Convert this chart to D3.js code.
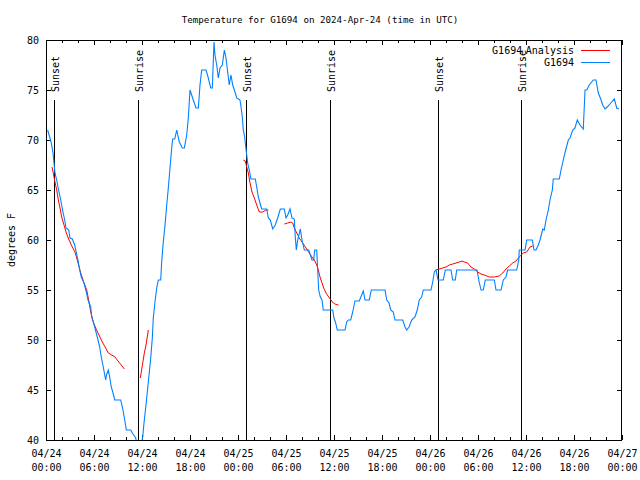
<!DOCTYPE html>
<html><head><meta charset="utf-8">
<script src="https://cdn.jsdelivr.net/npm/d3@7"></script>
<style>body{margin:0;background:#fff}text{font-family:"DejaVu Sans Mono",monospace;fill:#000}</style>
</head><body><svg id="c" width="640" height="480"></svg>
<script>
// Hours since 2024-04-24 00:00 UTC
const obsHours = [0.2,0.5,0.66,0.88,1.0,1.12,1.34,1.5,1.71,1.91,2.12,2.34,2.5,2.84,3.0,3.29,3.59,3.79,4.0,4.16,4.41,4.75,5.04,5.25,5.59,5.71,5.91,6.12,6.41,6.71,6.91,7.16,7.46,7.56,7.79,7.96,8.16,8.38,8.59,9.34,9.62,9.84,10.04,10.59,10.79,11.21,11.4,11.6,11.9,12.09,12.25,12.5,12.66,12.88,13.09,13.29,13.41,13.62,13.84,14.04,14.34,14.46,14.66,14.88,15.09,15.29,15.5,15.71,15.84,16.09,16.34,16.66,17.04,17.29,17.59,17.79,18.0,18.21,18.41,18.75,19.04,19.25,19.46,20.0,20.29,20.59,20.79,21.0,21.12,21.34,21.54,21.75,22.04,22.29,22.5,22.71,22.91,23.12,23.34,23.62,23.84,24.25,24.38,24.54,24.66,24.84,24.91,25.09,25.21,25.41,25.62,26.16,26.34,26.54,26.75,26.96,27.59,27.79,28.04,28.34,28.66,28.96,29.29,29.79,30.0,30.21,30.5,30.75,31.04,31.16,31.29,31.46,31.79,32.0,32.29,32.84,33.25,33.46,33.59,33.84,33.96,34.09,34.29,34.5,34.66,35.84,36.0,36.21,36.41,37.38,37.59,37.79,38.09,38.34,38.62,39.16,39.46,39.66,39.88,40.41,40.66,42.38,42.59,42.88,43.09,43.41,43.62,44.59,44.88,45.09,45.38,45.71,46.12,46.41,46.66,46.96,47.16,48.12,48.34,48.54,48.75,49.0,49.66,49.91,50.62,50.84,51.16,51.34,53.88,54.09,54.38,54.66,54.91,56.04,56.25,56.88,57.16,57.5,57.71,58.84,59.09,59.16,59.88,60.09,60.79,61.0,61.25,61.54,61.75,62.09,62.29,62.5,62.79,63.0,63.29,63.41,64.16,64.38,64.66,64.96,65.29,65.5,65.84,66.12,66.41,66.75,67.16,67.38,67.59,67.91,68.21,68.41,68.75,69.04,69.34,69.59,69.88,70.16,70.71,71.04,71.34,71.62];
const obsTemps = [71,70.2,69.7,68.7,67.7,66.7,66,65.3,64.5,63.7,62.8,62,61.2,61,60.2,60.1,59.5,58.7,58,57.2,56.3,55.7,54.8,54,53.3,52.3,51.8,51.2,50.3,49.3,48.3,47.3,46,46.5,47,46.3,45.3,44.7,44,44,43,42,41,41,40.7,40.2,39.5,39,39.5,40.3,41.7,43.5,44.8,46.5,48.2,50.2,52.2,53.8,55.2,56,56,57.8,59.8,61.5,63.5,65.2,67.2,69.2,70.1,70.1,71,69.8,69.2,69.2,70.5,72.2,75,74.5,74,73.2,73.2,75.5,77,77,76.2,75.2,75.2,79.8,78.5,77.5,76.2,77.2,77.5,79,78.2,76.8,75.5,76.5,75.5,74.8,74.2,74,73.3,72.3,71,70.3,69.7,68.5,67.7,67,66.1,66.1,65.3,64.3,63.7,63.1,63.1,62.2,62,61.1,61.5,62.2,63.1,63.1,62.2,62.5,63.1,62.2,62.1,60.3,59,60,61.1,60,59,59,58,58,59,59,57,55,54.3,54,53,53,52.2,51.7,51,51,51.8,52,52,52.8,53.9,53.9,54.5,54.9,54,54,55,55,54,53.7,53,52.8,52,52,51.3,51,51.3,52,52.3,53,54,54.3,55,55,55.8,56.8,57,56,56,57,57,56,56,57,57,56,55,55,56,56,55,55,56,56.3,57,57,58,59,59,60,60,59,59,59.5,60,61.1,61,62,63,64,65,66.1,66.1,67,68,69,70,70.2,71,71.2,72,71.5,71.1,75,75,75.5,75.8,76,76,74.7,74.1,73.5,73.1,73.3,73.8,74.1,73.2,73.1];
// null marks a gap in the analysis series
const anaHours = [0.75,0.91,1.12,1.34,1.54,1.75,1.96,2.25,2.54,2.88,3.29,3.62,3.91,4.34,4.75,5.09,5.38,5.59,5.91,6.21,6.62,7.04,7.46,7.79,8.21,8.62,9.0,9.41,9.79,null,
 11.79,12.09,12.29,12.5,12.66,12.79,null,
 24.66,24.91,25.09,25.29,25.5,25.75,26.04,26.34,26.66,27.09,27.5,27.79,null,
 29.79,30.21,30.62,30.84,31.04,31.34,31.66,32.09,32.5,32.91,33.25,33.54,33.84,34.04,34.25,34.5,34.71,35.0,35.34,35.62,35.91,36.12,36.54,null,
 48.75,49.16,49.59,50.0,50.41,50.84,51.25,51.66,52.0,52.29,52.71,53.12,53.54,53.96,54.38,54.79,55.41,56.04,56.66,57.09,57.5,57.91,58.34,58.75,59.16,59.66,60.09,60.5,60.84];
const anaTemps = [67.3,66.7,65.8,65,64,63.2,62.3,61.5,60.7,60,59.3,58.8,58,56.7,55.7,55,53.8,52.8,51.8,51.2,50.5,49.8,49.2,48.7,48.5,48.3,47.9,47.5,47.1,null,
 46.2,47.7,48.7,49.5,50.3,51,null,
 68,67.9,67.3,66.7,65.7,64.8,64.2,63.5,62.8,62.8,63,63,null,
 61.6,61.7,61.8,61.7,61.2,60.7,60.2,59.7,59.2,58.7,58.3,58,57.5,57,56.3,55.7,55.2,54.7,54.3,54,53.7,53.6,53.5,null,
 57,57.1,57.2,57.3,57.5,57.6,57.7,57.8,57.9,57.8,57.7,57.3,57.1,56.8,56.6,56.5,56.3,56.3,56.4,56.7,57.1,57.4,57.7,57.9,58.3,58.7,58.8,59.3,59.4];
const sunEventHours = [1.0,11.52,25.0,35.47,49.0,59.43];
const sunEventLabels = ["Sunset","Sunrise","Sunset","Sunrise","Sunset","Sunrise"];
const yTicks = [40,45,50,55,60,65,70,75,80];
const titleText = "Temperature for G1694 on 2024-Apr-24 (time in UTC)";
const yLabel = "degrees F";
const seriesNames = ["G1694_Analysis","G1694"];
const seriesColors = ["#ff0000","#0080ff"];

const t0 = Date.UTC(2024,3,24);
const toDate = h => new Date(t0 + h*3600e3);
const L=46,R=622,T=40,B=440;
const svg = d3.select("#c");
svg.append("rect").attr("width",640).attr("height",480).attr("fill","#fff");
const x = d3.scaleUtc().domain([toDate(0),toDate(72)]).range([L,R]);
const y = d3.scaleLinear().domain([40,80]).range([B,T]);

svg.append("defs").append("clipPath").attr("id","clip").append("rect")
  .attr("x",L).attr("y",T).attr("width",R-L).attr("height",B-T);

// axes
const major = d3.utcHour.every(6), minor = d3.utcHour.every(2);
const fmtD = d3.utcFormat("%m/%d"), fmtH = d3.utcFormat("%H:%M");
const gxb = svg.append("g").attr("transform",`translate(0,${B})`)
  .call(d3.axisBottom(x).ticks(major).tickSize(-5).tickPadding(0).tickFormat(d=>fmtD(d)));
gxb.selectAll("text").attr("y",0).attr("dy",null).text(null).each(function(d){
  const t=d3.select(this).attr("font-size",10).attr("font-family",null);
  t.append("tspan").attr("x",0).attr("y",17).text(fmtD(d));
  t.append("tspan").attr("x",0).attr("y",31).text(fmtH(d));
});
svg.append("g").attr("transform",`translate(0,${B})`).call(d3.axisBottom(x).ticks(minor).tickSize(-3).tickFormat(""));
svg.append("g").attr("transform",`translate(0,${T})`).call(d3.axisTop(x).ticks(major).tickSize(-5).tickFormat(""));
svg.append("g").attr("transform",`translate(0,${T})`).call(d3.axisTop(x).ticks(minor).tickSize(-3).tickFormat(""));
const gyl = svg.append("g").attr("transform",`translate(${L},0)`)
  .call(d3.axisLeft(y).tickValues(yTicks).tickSize(-5).tickPadding(7));
gyl.selectAll("text").attr("font-size",10).attr("font-family",null);
svg.append("g").attr("transform",`translate(${R},0)`).call(d3.axisRight(y).tickValues(yTicks).tickSize(-5).tickFormat(""));
svg.selectAll(".domain").remove();
svg.selectAll(".tick line").attr("stroke","#000").attr("shape-rendering","crispEdges");

// sunrise/sunset
const ev = svg.append("g");
sunEventHours.forEach((h,i)=>{
  const xx = Math.round(x(toDate(h)))+0.5;
  ev.append("line").attr("x1",xx).attr("x2",xx).attr("y1",100).attr("y2",B)
    .attr("stroke","#000").attr("stroke-width",1).attr("shape-rendering","crispEdges");
  ev.append("text").attr("transform",`translate(${xx+4},92) rotate(-90)`)
    .attr("text-anchor","start").attr("font-size",10).text(sunEventLabels[i]);
});

// series
const plot = svg.append("g").attr("clip-path","url(#clip)");
const line = d3.line().defined(d=>d[0]!==null&&d[1]!==null).x(d=>x(toDate(d[0]))).y(d=>y(d[1]));
plot.append("path").datum(anaHours.map((h,i)=>[h,anaTemps[i]]))
  .attr("d",line).attr("fill","none").attr("stroke",seriesColors[0]).attr("stroke-width",1);
plot.append("path").datum(obsHours.map((h,i)=>[h,obsTemps[i]]))
  .attr("d",line).attr("fill","none").attr("stroke",seriesColors[1]).attr("stroke-width",1.1);

// border
svg.append("rect").attr("x",L+0.5).attr("y",T+0.5).attr("width",R-L-1).attr("height",B-T)
  .attr("fill","none").attr("stroke","#000").attr("shape-rendering","crispEdges");

// title & labels
svg.append("text").attr("x",320).attr("y",23).attr("text-anchor","middle").attr("font-size",9.2).text(titleText);
svg.append("text").attr("transform",`translate(15,240) rotate(-90)`).attr("text-anchor","middle").attr("font-size",10).text(yLabel);

// legend
const lg = svg.append("g");
seriesNames.forEach((n,i)=>{
  const yy = 50 + i*12;
  const t = lg.append("text").attr("x",574).attr("y",yy+3.5).attr("text-anchor","end").attr("font-size",10);
  if(n.includes("_")){
    const [a,b]=n.split("_");
    t.append("tspan").text(a);
    t.append("tspan").attr("font-size",6).attr("dy",3).text("_");
    t.append("tspan").attr("dy",-3).text(b);
  } else t.text(n);
  lg.append("line").attr("x1",581).attr("x2",610).attr("y1",yy+0.5).attr("y2",yy+0.5)
    .attr("stroke",seriesColors[i]).attr("stroke-width",1).attr("shape-rendering","crispEdges");
});
</script></body></html>
